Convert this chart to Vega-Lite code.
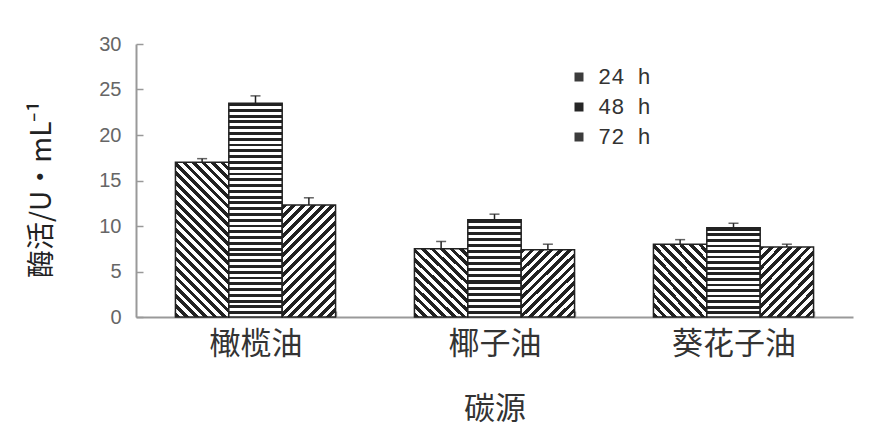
{
  "$schema": "https://vega.github.io/schema/vega-lite/v6.json",
  "width": 717,
  "height": 273,
  "autosize": {"type": "none"},
  "padding": {"left": 136, "top": 44, "right": 20, "bottom": 117},
  "background": "white",
  "config": {
    "view": {"stroke": null},
    "axis": {"grid": false, "domainColor": "#999", "domainWidth": 2, "tickColor": "#999", "tickWidth": 1.5, "titleFontWeight": "normal"}
  },
  "data": {
    "values": [
      {"oil": "橄榄油", "time": "24 h", "value": 17.0, "upper": 17.4},
      {"oil": "橄榄油", "time": "48 h", "value": 23.5, "upper": 24.3},
      {"oil": "橄榄油", "time": "72 h", "value": 12.3, "upper": 13.1},
      {"oil": "椰子油", "time": "24 h", "value": 7.5, "upper": 8.3},
      {"oil": "椰子油", "time": "48 h", "value": 10.7, "upper": 11.3},
      {"oil": "椰子油", "time": "72 h", "value": 7.4, "upper": 8.0},
      {"oil": "葵花子油", "time": "24 h", "value": 8.0, "upper": 8.5},
      {"oil": "葵花子油", "time": "48 h", "value": 9.8, "upper": 10.3},
      {"oil": "葵花子油", "time": "72 h", "value": 7.7, "upper": 8.0}
    ]
  },
  "encoding": {
    "x": {
      "field": "oil", "type": "nominal", "sort": ["橄榄油", "椰子油", "葵花子油"],
      "scale": {"paddingInner": 0.33, "paddingOuter": 0.165},
      "axis": {
        "title": "碳源", "labelAngle": 0, "tickBand": "extent", "tickSize": -6,
        "labelFont": "Noto Sans CJK SC", "labelFontSize": 31, "labelColor": "#333", "labelPadding": 18,
        "titleFont": "Noto Sans CJK SC", "titleFontSize": 31, "titleColor": "#333", "titlePadding": 35
      }
    },
    "xOffset": {"field": "time", "type": "nominal", "scale": {"paddingInner": 0, "paddingOuter": 0}}
  },
  "layer": [
    {
      "mark": {"type": "bar"},
      "encoding": {
        "y": {
          "field": "value", "type": "quantitative",
          "scale": {"domain": [0, 30], "nice": false},
          "axis": {
            "title": "酶活/U·mL⁻¹", "values": [0, 5, 10, 15, 20, 25, 30], "tickSize": -7,
            "labelFont": "Liberation Sans", "labelFontSize": 20, "labelColor": "#666", "labelPadding": 22,
            "titleFont": "Noto Sans CJK SC", "titleFontSize": 28, "titleColor": "#222", "titlePadding": 42, "titleY": 145
          }
        },
        "color": {
          "field": "time", "type": "nominal",
          "scale": {"range": ["#3c3c3c", "#262626", "#3c3c3c"]},
          "legend": {
            "title": null, "orient": "none", "legendX": 432, "legendY": 22, "padding": 0,
            "symbolType": "square", "symbolSize": 81, "symbolStrokeWidth": 0,
            "labelFont": "Liberation Mono", "labelFontSize": 22, "labelColor": "#333",
            "labelOffset": 8, "rowPadding": 8
          }
        }
      }
    },
    {
      "mark": {"type": "bar", "stroke": "#222", "strokeWidth": 1.5},
      "encoding": {
        "y": {"field": "value", "type": "quantitative"},
        "fill": {
          "condition": [
            {"test": "datum.oil === '橄榄油' && datum.time === '24 h'", "value": {"gradient": "linear", "x1": 0, "y1": 1, "x2": 0.4148, "y2": -0.202, "stops": [
              {"offset": 0, "color": "#222"}, {"offset": 0.0227, "color": "#222"}, {"offset": 0.0227, "color": "#fff"}, {"offset": 0.0455, "color": "#fff"},
              {"offset": 0.0455, "color": "#222"}, {"offset": 0.0682, "color": "#222"}, {"offset": 0.0682, "color": "#fff"}, {"offset": 0.0909, "color": "#fff"},
              {"offset": 0.0909, "color": "#222"}, {"offset": 0.1136, "color": "#222"}, {"offset": 0.1136, "color": "#fff"}, {"offset": 0.1364, "color": "#fff"},
              {"offset": 0.1364, "color": "#222"}, {"offset": 0.1591, "color": "#222"}, {"offset": 0.1591, "color": "#fff"}, {"offset": 0.1818, "color": "#fff"},
              {"offset": 0.1818, "color": "#222"}, {"offset": 0.2045, "color": "#222"}, {"offset": 0.2045, "color": "#fff"}, {"offset": 0.2273, "color": "#fff"},
              {"offset": 0.2273, "color": "#222"}, {"offset": 0.25, "color": "#222"}, {"offset": 0.25, "color": "#fff"}, {"offset": 0.2727, "color": "#fff"},
              {"offset": 0.2727, "color": "#222"}, {"offset": 0.2955, "color": "#222"}, {"offset": 0.2955, "color": "#fff"}, {"offset": 0.3182, "color": "#fff"},
              {"offset": 0.3182, "color": "#222"}, {"offset": 0.3409, "color": "#222"}, {"offset": 0.3409, "color": "#fff"}, {"offset": 0.3636, "color": "#fff"},
              {"offset": 0.3636, "color": "#222"}, {"offset": 0.3864, "color": "#222"}, {"offset": 0.3864, "color": "#fff"}, {"offset": 0.4091, "color": "#fff"},
              {"offset": 0.4091, "color": "#222"}, {"offset": 0.4318, "color": "#222"}, {"offset": 0.4318, "color": "#fff"}, {"offset": 0.4545, "color": "#fff"},
              {"offset": 0.4545, "color": "#222"}, {"offset": 0.4773, "color": "#222"}, {"offset": 0.4773, "color": "#fff"}, {"offset": 0.5, "color": "#fff"},
              {"offset": 0.5, "color": "#222"}, {"offset": 0.5227, "color": "#222"}, {"offset": 0.5227, "color": "#fff"}, {"offset": 0.5455, "color": "#fff"},
              {"offset": 0.5455, "color": "#222"}, {"offset": 0.5682, "color": "#222"}, {"offset": 0.5682, "color": "#fff"}, {"offset": 0.5909, "color": "#fff"},
              {"offset": 0.5909, "color": "#222"}, {"offset": 0.6136, "color": "#222"}, {"offset": 0.6136, "color": "#fff"}, {"offset": 0.6364, "color": "#fff"},
              {"offset": 0.6364, "color": "#222"}, {"offset": 0.6591, "color": "#222"}, {"offset": 0.6591, "color": "#fff"}, {"offset": 0.6818, "color": "#fff"},
              {"offset": 0.6818, "color": "#222"}, {"offset": 0.7045, "color": "#222"}, {"offset": 0.7045, "color": "#fff"}, {"offset": 0.7273, "color": "#fff"},
              {"offset": 0.7273, "color": "#222"}, {"offset": 0.75, "color": "#222"}, {"offset": 0.75, "color": "#fff"}, {"offset": 0.7727, "color": "#fff"},
              {"offset": 0.7727, "color": "#222"}, {"offset": 0.7955, "color": "#222"}, {"offset": 0.7955, "color": "#fff"}, {"offset": 0.8182, "color": "#fff"},
              {"offset": 0.8182, "color": "#222"}, {"offset": 0.8409, "color": "#222"}, {"offset": 0.8409, "color": "#fff"}, {"offset": 0.8636, "color": "#fff"},
              {"offset": 0.8636, "color": "#222"}, {"offset": 0.8864, "color": "#222"}, {"offset": 0.8864, "color": "#fff"}, {"offset": 0.9091, "color": "#fff"},
              {"offset": 0.9091, "color": "#222"}, {"offset": 0.9318, "color": "#222"}, {"offset": 0.9318, "color": "#fff"}, {"offset": 0.9545, "color": "#fff"},
              {"offset": 0.9545, "color": "#222"}, {"offset": 0.9773, "color": "#222"}, {"offset": 0.9773, "color": "#fff"}, {"offset": 1, "color": "#fff"}
            ]}},
            {"test": "datum.oil === '橄榄油' && datum.time === '48 h'", "value": {"gradient": "linear", "x1": 0, "y1": 0, "x2": 0, "y2": 1, "stops": [
              {"offset": 0, "color": "#222"}, {"offset": 0.0135, "color": "#222"}, {"offset": 0.0135, "color": "#fff"}, {"offset": 0.027, "color": "#fff"},
              {"offset": 0.027, "color": "#222"}, {"offset": 0.0405, "color": "#222"}, {"offset": 0.0405, "color": "#fff"}, {"offset": 0.0541, "color": "#fff"},
              {"offset": 0.0541, "color": "#222"}, {"offset": 0.0676, "color": "#222"}, {"offset": 0.0676, "color": "#fff"}, {"offset": 0.0811, "color": "#fff"},
              {"offset": 0.0811, "color": "#222"}, {"offset": 0.0946, "color": "#222"}, {"offset": 0.0946, "color": "#fff"}, {"offset": 0.1081, "color": "#fff"},
              {"offset": 0.1081, "color": "#222"}, {"offset": 0.1216, "color": "#222"}, {"offset": 0.1216, "color": "#fff"}, {"offset": 0.1351, "color": "#fff"},
              {"offset": 0.1351, "color": "#222"}, {"offset": 0.1486, "color": "#222"}, {"offset": 0.1486, "color": "#fff"}, {"offset": 0.1622, "color": "#fff"},
              {"offset": 0.1622, "color": "#222"}, {"offset": 0.1757, "color": "#222"}, {"offset": 0.1757, "color": "#fff"}, {"offset": 0.1892, "color": "#fff"},
              {"offset": 0.1892, "color": "#222"}, {"offset": 0.2027, "color": "#222"}, {"offset": 0.2027, "color": "#fff"}, {"offset": 0.2162, "color": "#fff"},
              {"offset": 0.2162, "color": "#222"}, {"offset": 0.2297, "color": "#222"}, {"offset": 0.2297, "color": "#fff"}, {"offset": 0.2432, "color": "#fff"},
              {"offset": 0.2432, "color": "#222"}, {"offset": 0.2568, "color": "#222"}, {"offset": 0.2568, "color": "#fff"}, {"offset": 0.2703, "color": "#fff"},
              {"offset": 0.2703, "color": "#222"}, {"offset": 0.2838, "color": "#222"}, {"offset": 0.2838, "color": "#fff"}, {"offset": 0.2973, "color": "#fff"},
              {"offset": 0.2973, "color": "#222"}, {"offset": 0.3108, "color": "#222"}, {"offset": 0.3108, "color": "#fff"}, {"offset": 0.3243, "color": "#fff"},
              {"offset": 0.3243, "color": "#222"}, {"offset": 0.3378, "color": "#222"}, {"offset": 0.3378, "color": "#fff"}, {"offset": 0.3514, "color": "#fff"},
              {"offset": 0.3514, "color": "#222"}, {"offset": 0.3649, "color": "#222"}, {"offset": 0.3649, "color": "#fff"}, {"offset": 0.3784, "color": "#fff"},
              {"offset": 0.3784, "color": "#222"}, {"offset": 0.3919, "color": "#222"}, {"offset": 0.3919, "color": "#fff"}, {"offset": 0.4054, "color": "#fff"},
              {"offset": 0.4054, "color": "#222"}, {"offset": 0.4189, "color": "#222"}, {"offset": 0.4189, "color": "#fff"}, {"offset": 0.4324, "color": "#fff"},
              {"offset": 0.4324, "color": "#222"}, {"offset": 0.4459, "color": "#222"}, {"offset": 0.4459, "color": "#fff"}, {"offset": 0.4595, "color": "#fff"},
              {"offset": 0.4595, "color": "#222"}, {"offset": 0.473, "color": "#222"}, {"offset": 0.473, "color": "#fff"}, {"offset": 0.4865, "color": "#fff"},
              {"offset": 0.4865, "color": "#222"}, {"offset": 0.5, "color": "#222"}, {"offset": 0.5, "color": "#fff"}, {"offset": 0.5135, "color": "#fff"},
              {"offset": 0.5135, "color": "#222"}, {"offset": 0.527, "color": "#222"}, {"offset": 0.527, "color": "#fff"}, {"offset": 0.5405, "color": "#fff"},
              {"offset": 0.5405, "color": "#222"}, {"offset": 0.5541, "color": "#222"}, {"offset": 0.5541, "color": "#fff"}, {"offset": 0.5676, "color": "#fff"},
              {"offset": 0.5676, "color": "#222"}, {"offset": 0.5811, "color": "#222"}, {"offset": 0.5811, "color": "#fff"}, {"offset": 0.5946, "color": "#fff"},
              {"offset": 0.5946, "color": "#222"}, {"offset": 0.6081, "color": "#222"}, {"offset": 0.6081, "color": "#fff"}, {"offset": 0.6216, "color": "#fff"},
              {"offset": 0.6216, "color": "#222"}, {"offset": 0.6351, "color": "#222"}, {"offset": 0.6351, "color": "#fff"}, {"offset": 0.6486, "color": "#fff"},
              {"offset": 0.6486, "color": "#222"}, {"offset": 0.6622, "color": "#222"}, {"offset": 0.6622, "color": "#fff"}, {"offset": 0.6757, "color": "#fff"},
              {"offset": 0.6757, "color": "#222"}, {"offset": 0.6892, "color": "#222"}, {"offset": 0.6892, "color": "#fff"}, {"offset": 0.7027, "color": "#fff"},
              {"offset": 0.7027, "color": "#222"}, {"offset": 0.7162, "color": "#222"}, {"offset": 0.7162, "color": "#fff"}, {"offset": 0.7297, "color": "#fff"},
              {"offset": 0.7297, "color": "#222"}, {"offset": 0.7432, "color": "#222"}, {"offset": 0.7432, "color": "#fff"}, {"offset": 0.7568, "color": "#fff"},
              {"offset": 0.7568, "color": "#222"}, {"offset": 0.7703, "color": "#222"}, {"offset": 0.7703, "color": "#fff"}, {"offset": 0.7838, "color": "#fff"},
              {"offset": 0.7838, "color": "#222"}, {"offset": 0.7973, "color": "#222"}, {"offset": 0.7973, "color": "#fff"}, {"offset": 0.8108, "color": "#fff"},
              {"offset": 0.8108, "color": "#222"}, {"offset": 0.8243, "color": "#222"}, {"offset": 0.8243, "color": "#fff"}, {"offset": 0.8378, "color": "#fff"},
              {"offset": 0.8378, "color": "#222"}, {"offset": 0.8514, "color": "#222"}, {"offset": 0.8514, "color": "#fff"}, {"offset": 0.8649, "color": "#fff"},
              {"offset": 0.8649, "color": "#222"}, {"offset": 0.8784, "color": "#222"}, {"offset": 0.8784, "color": "#fff"}, {"offset": 0.8919, "color": "#fff"},
              {"offset": 0.8919, "color": "#222"}, {"offset": 0.9054, "color": "#222"}, {"offset": 0.9054, "color": "#fff"}, {"offset": 0.9189, "color": "#fff"},
              {"offset": 0.9189, "color": "#222"}, {"offset": 0.9324, "color": "#222"}, {"offset": 0.9324, "color": "#fff"}, {"offset": 0.9459, "color": "#fff"},
              {"offset": 0.9459, "color": "#222"}, {"offset": 0.9595, "color": "#222"}, {"offset": 0.9595, "color": "#fff"}, {"offset": 0.973, "color": "#fff"},
              {"offset": 0.973, "color": "#222"}, {"offset": 0.9865, "color": "#222"}, {"offset": 0.9865, "color": "#fff"}, {"offset": 1, "color": "#fff"}
            ]}},
            {"test": "datum.oil === '橄榄油' && datum.time === '72 h'", "value": {"gradient": "linear", "x1": 0, "y1": 0, "x2": 0.574, "y2": 1.2034, "stops": [
              {"offset": 0, "color": "#222"}, {"offset": 0.0294, "color": "#222"}, {"offset": 0.0294, "color": "#fff"}, {"offset": 0.0588, "color": "#fff"},
              {"offset": 0.0588, "color": "#222"}, {"offset": 0.0882, "color": "#222"}, {"offset": 0.0882, "color": "#fff"}, {"offset": 0.1176, "color": "#fff"},
              {"offset": 0.1176, "color": "#222"}, {"offset": 0.1471, "color": "#222"}, {"offset": 0.1471, "color": "#fff"}, {"offset": 0.1765, "color": "#fff"},
              {"offset": 0.1765, "color": "#222"}, {"offset": 0.2059, "color": "#222"}, {"offset": 0.2059, "color": "#fff"}, {"offset": 0.2353, "color": "#fff"},
              {"offset": 0.2353, "color": "#222"}, {"offset": 0.2647, "color": "#222"}, {"offset": 0.2647, "color": "#fff"}, {"offset": 0.2941, "color": "#fff"},
              {"offset": 0.2941, "color": "#222"}, {"offset": 0.3235, "color": "#222"}, {"offset": 0.3235, "color": "#fff"}, {"offset": 0.3529, "color": "#fff"},
              {"offset": 0.3529, "color": "#222"}, {"offset": 0.3824, "color": "#222"}, {"offset": 0.3824, "color": "#fff"}, {"offset": 0.4118, "color": "#fff"},
              {"offset": 0.4118, "color": "#222"}, {"offset": 0.4412, "color": "#222"}, {"offset": 0.4412, "color": "#fff"}, {"offset": 0.4706, "color": "#fff"},
              {"offset": 0.4706, "color": "#222"}, {"offset": 0.5, "color": "#222"}, {"offset": 0.5, "color": "#fff"}, {"offset": 0.5294, "color": "#fff"},
              {"offset": 0.5294, "color": "#222"}, {"offset": 0.5588, "color": "#222"}, {"offset": 0.5588, "color": "#fff"}, {"offset": 0.5882, "color": "#fff"},
              {"offset": 0.5882, "color": "#222"}, {"offset": 0.6176, "color": "#222"}, {"offset": 0.6176, "color": "#fff"}, {"offset": 0.6471, "color": "#fff"},
              {"offset": 0.6471, "color": "#222"}, {"offset": 0.6765, "color": "#222"}, {"offset": 0.6765, "color": "#fff"}, {"offset": 0.7059, "color": "#fff"},
              {"offset": 0.7059, "color": "#222"}, {"offset": 0.7353, "color": "#222"}, {"offset": 0.7353, "color": "#fff"}, {"offset": 0.7647, "color": "#fff"},
              {"offset": 0.7647, "color": "#222"}, {"offset": 0.7941, "color": "#222"}, {"offset": 0.7941, "color": "#fff"}, {"offset": 0.8235, "color": "#fff"},
              {"offset": 0.8235, "color": "#222"}, {"offset": 0.8529, "color": "#222"}, {"offset": 0.8529, "color": "#fff"}, {"offset": 0.8824, "color": "#fff"},
              {"offset": 0.8824, "color": "#222"}, {"offset": 0.9118, "color": "#222"}, {"offset": 0.9118, "color": "#fff"}, {"offset": 0.9412, "color": "#fff"},
              {"offset": 0.9412, "color": "#222"}, {"offset": 0.9706, "color": "#222"}, {"offset": 0.9706, "color": "#fff"}, {"offset": 1, "color": "#fff"}
            ]}},
            {"test": "datum.time === '24 h'", "value": {"gradient": "linear", "x1": 0, "y1": 1, "x2": 0.8459, "y2": -0.1172, "stops": [
              {"offset": 0, "color": "#222"}, {"offset": 0.0385, "color": "#222"}, {"offset": 0.0385, "color": "#fff"}, {"offset": 0.0769, "color": "#fff"},
              {"offset": 0.0769, "color": "#222"}, {"offset": 0.1154, "color": "#222"}, {"offset": 0.1154, "color": "#fff"}, {"offset": 0.1538, "color": "#fff"},
              {"offset": 0.1538, "color": "#222"}, {"offset": 0.1923, "color": "#222"}, {"offset": 0.1923, "color": "#fff"}, {"offset": 0.2308, "color": "#fff"},
              {"offset": 0.2308, "color": "#222"}, {"offset": 0.2692, "color": "#222"}, {"offset": 0.2692, "color": "#fff"}, {"offset": 0.3077, "color": "#fff"},
              {"offset": 0.3077, "color": "#222"}, {"offset": 0.3462, "color": "#222"}, {"offset": 0.3462, "color": "#fff"}, {"offset": 0.3846, "color": "#fff"},
              {"offset": 0.3846, "color": "#222"}, {"offset": 0.4231, "color": "#222"}, {"offset": 0.4231, "color": "#fff"}, {"offset": 0.4615, "color": "#fff"},
              {"offset": 0.4615, "color": "#222"}, {"offset": 0.5, "color": "#222"}, {"offset": 0.5, "color": "#fff"}, {"offset": 0.5385, "color": "#fff"},
              {"offset": 0.5385, "color": "#222"}, {"offset": 0.5769, "color": "#222"}, {"offset": 0.5769, "color": "#fff"}, {"offset": 0.6154, "color": "#fff"},
              {"offset": 0.6154, "color": "#222"}, {"offset": 0.6538, "color": "#222"}, {"offset": 0.6538, "color": "#fff"}, {"offset": 0.6923, "color": "#fff"},
              {"offset": 0.6923, "color": "#222"}, {"offset": 0.7308, "color": "#222"}, {"offset": 0.7308, "color": "#fff"}, {"offset": 0.7692, "color": "#fff"},
              {"offset": 0.7692, "color": "#222"}, {"offset": 0.8077, "color": "#222"}, {"offset": 0.8077, "color": "#fff"}, {"offset": 0.8462, "color": "#fff"},
              {"offset": 0.8462, "color": "#222"}, {"offset": 0.8846, "color": "#222"}, {"offset": 0.8846, "color": "#fff"}, {"offset": 0.9231, "color": "#fff"},
              {"offset": 0.9231, "color": "#222"}, {"offset": 0.9615, "color": "#222"}, {"offset": 0.9615, "color": "#fff"}, {"offset": 1, "color": "#fff"}
            ]}},
            {"test": "datum.time === '48 h'", "value": {"gradient": "linear", "x1": 0, "y1": 0, "x2": 0, "y2": 1, "stops": [
              {"offset": 0, "color": "#222"}, {"offset": 0.0313, "color": "#222"}, {"offset": 0.0313, "color": "#fff"}, {"offset": 0.0625, "color": "#fff"},
              {"offset": 0.0625, "color": "#222"}, {"offset": 0.0938, "color": "#222"}, {"offset": 0.0938, "color": "#fff"}, {"offset": 0.125, "color": "#fff"},
              {"offset": 0.125, "color": "#222"}, {"offset": 0.1563, "color": "#222"}, {"offset": 0.1563, "color": "#fff"}, {"offset": 0.1875, "color": "#fff"},
              {"offset": 0.1875, "color": "#222"}, {"offset": 0.2188, "color": "#222"}, {"offset": 0.2188, "color": "#fff"}, {"offset": 0.25, "color": "#fff"},
              {"offset": 0.25, "color": "#222"}, {"offset": 0.2813, "color": "#222"}, {"offset": 0.2813, "color": "#fff"}, {"offset": 0.3125, "color": "#fff"},
              {"offset": 0.3125, "color": "#222"}, {"offset": 0.3438, "color": "#222"}, {"offset": 0.3438, "color": "#fff"}, {"offset": 0.375, "color": "#fff"},
              {"offset": 0.375, "color": "#222"}, {"offset": 0.4063, "color": "#222"}, {"offset": 0.4063, "color": "#fff"}, {"offset": 0.4375, "color": "#fff"},
              {"offset": 0.4375, "color": "#222"}, {"offset": 0.4688, "color": "#222"}, {"offset": 0.4688, "color": "#fff"}, {"offset": 0.5, "color": "#fff"},
              {"offset": 0.5, "color": "#222"}, {"offset": 0.5313, "color": "#222"}, {"offset": 0.5313, "color": "#fff"}, {"offset": 0.5625, "color": "#fff"},
              {"offset": 0.5625, "color": "#222"}, {"offset": 0.5938, "color": "#222"}, {"offset": 0.5938, "color": "#fff"}, {"offset": 0.625, "color": "#fff"},
              {"offset": 0.625, "color": "#222"}, {"offset": 0.6563, "color": "#222"}, {"offset": 0.6563, "color": "#fff"}, {"offset": 0.6875, "color": "#fff"},
              {"offset": 0.6875, "color": "#222"}, {"offset": 0.7188, "color": "#222"}, {"offset": 0.7188, "color": "#fff"}, {"offset": 0.75, "color": "#fff"},
              {"offset": 0.75, "color": "#222"}, {"offset": 0.7813, "color": "#222"}, {"offset": 0.7813, "color": "#fff"}, {"offset": 0.8125, "color": "#fff"},
              {"offset": 0.8125, "color": "#222"}, {"offset": 0.8438, "color": "#222"}, {"offset": 0.8438, "color": "#fff"}, {"offset": 0.875, "color": "#fff"},
              {"offset": 0.875, "color": "#222"}, {"offset": 0.9063, "color": "#222"}, {"offset": 0.9063, "color": "#fff"}, {"offset": 0.9375, "color": "#fff"},
              {"offset": 0.9375, "color": "#222"}, {"offset": 0.9688, "color": "#222"}, {"offset": 0.9688, "color": "#fff"}, {"offset": 1, "color": "#fff"}
            ]}},
            {"test": "datum.time === '72 h'", "value": {"gradient": "linear", "x1": 0, "y1": 0, "x2": 0.8611, "y2": 1.1083, "stops": [
              {"offset": 0, "color": "#222"}, {"offset": 0.0385, "color": "#222"}, {"offset": 0.0385, "color": "#fff"}, {"offset": 0.0769, "color": "#fff"},
              {"offset": 0.0769, "color": "#222"}, {"offset": 0.1154, "color": "#222"}, {"offset": 0.1154, "color": "#fff"}, {"offset": 0.1538, "color": "#fff"},
              {"offset": 0.1538, "color": "#222"}, {"offset": 0.1923, "color": "#222"}, {"offset": 0.1923, "color": "#fff"}, {"offset": 0.2308, "color": "#fff"},
              {"offset": 0.2308, "color": "#222"}, {"offset": 0.2692, "color": "#222"}, {"offset": 0.2692, "color": "#fff"}, {"offset": 0.3077, "color": "#fff"},
              {"offset": 0.3077, "color": "#222"}, {"offset": 0.3462, "color": "#222"}, {"offset": 0.3462, "color": "#fff"}, {"offset": 0.3846, "color": "#fff"},
              {"offset": 0.3846, "color": "#222"}, {"offset": 0.4231, "color": "#222"}, {"offset": 0.4231, "color": "#fff"}, {"offset": 0.4615, "color": "#fff"},
              {"offset": 0.4615, "color": "#222"}, {"offset": 0.5, "color": "#222"}, {"offset": 0.5, "color": "#fff"}, {"offset": 0.5385, "color": "#fff"},
              {"offset": 0.5385, "color": "#222"}, {"offset": 0.5769, "color": "#222"}, {"offset": 0.5769, "color": "#fff"}, {"offset": 0.6154, "color": "#fff"},
              {"offset": 0.6154, "color": "#222"}, {"offset": 0.6538, "color": "#222"}, {"offset": 0.6538, "color": "#fff"}, {"offset": 0.6923, "color": "#fff"},
              {"offset": 0.6923, "color": "#222"}, {"offset": 0.7308, "color": "#222"}, {"offset": 0.7308, "color": "#fff"}, {"offset": 0.7692, "color": "#fff"},
              {"offset": 0.7692, "color": "#222"}, {"offset": 0.8077, "color": "#222"}, {"offset": 0.8077, "color": "#fff"}, {"offset": 0.8462, "color": "#fff"},
              {"offset": 0.8462, "color": "#222"}, {"offset": 0.8846, "color": "#222"}, {"offset": 0.8846, "color": "#fff"}, {"offset": 0.9231, "color": "#fff"},
              {"offset": 0.9231, "color": "#222"}, {"offset": 0.9615, "color": "#222"}, {"offset": 0.9615, "color": "#fff"}, {"offset": 1, "color": "#fff"}
            ]}}
          ],
          "value": "#fff"
        }
      }
    },
    {
      "mark": {"type": "rule", "color": "#222", "strokeWidth": 1.5},
      "encoding": {
        "y": {"field": "value", "type": "quantitative"},
        "y2": {"field": "upper"}
      }
    },
    {
      "mark": {"type": "tick", "color": "#222", "size": 10, "thickness": 1.5},
      "encoding": {
        "y": {"field": "upper", "type": "quantitative"}
      }
    }
  ]
}
